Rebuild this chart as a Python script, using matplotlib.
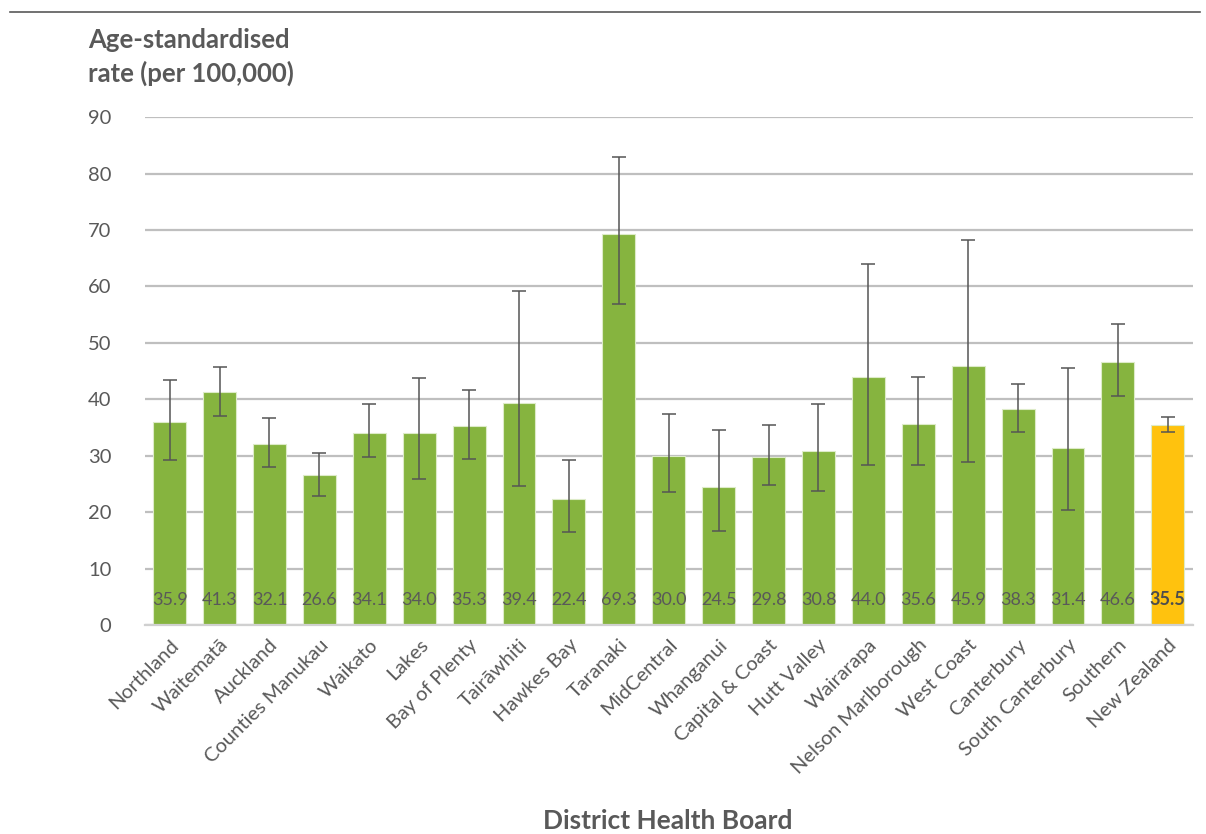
import matplotlib
matplotlib.use("Agg")
import matplotlib.pyplot as plt
from matplotlib.lines import Line2D

plt.rcParams['font.family'] = ['Lato', 'DejaVu Sans']

boards = ["Northland", "Waitematā", "Auckland", "Counties Manukau", "Waikato",
          "Lakes", "Bay of Plenty", "Tairāwhiti", "Hawkes Bay", "Taranaki",
          "MidCentral", "Whanganui", "Capital & Coast", "Hutt Valley", "Wairarapa",
          "Nelson Marlborough", "West Coast", "Canterbury", "South Canterbury",
          "Southern", "New Zealand"]
rates = [35.9, 41.3, 32.1, 26.6, 34.1, 34.0, 35.3, 39.4, 22.4, 69.3,
         30.0, 24.5, 29.8, 30.8, 44.0, 35.6, 45.9, 38.3, 31.4, 46.6, 35.5]
ci_low = [29.3, 37.1, 28.0, 22.9, 29.7, 25.9, 29.5, 24.7, 16.5, 56.9,
          23.5, 16.7, 24.8, 23.8, 28.4, 28.4, 28.8, 34.2, 20.4, 40.6, 34.2]
ci_high = [43.5, 45.7, 36.7, 30.5, 39.1, 43.8, 41.6, 59.1, 29.3, 82.9,
           37.4, 34.6, 35.4, 39.1, 63.9, 43.9, 68.2, 42.7, 45.5, 53.3, 36.9]
yticks = [0, 10, 20, 30, 40, 50, 60, 70, 80, 90]

GREEN = "#86B43F"
GOLD = "#FFC20E"
TEXT = "#595959"
GRID = "#BFBFBF"

fig = plt.figure(figsize=(12.06, 8.34), dpi=100)
ax = fig.add_axes([0.120, 0.2506, 0.869, 0.609])

x = list(range(len(boards)))
colors = [GREEN] * (len(boards) - 1) + [GOLD]
ax.bar(x, rates, width=0.66, color=colors, edgecolor="#DDEBC8", linewidth=0.8, zorder=2)

yerr = [[r - lo for r, lo in zip(rates, ci_low)],
        [hi - r for r, hi in zip(rates, ci_high)]]
ax.errorbar(x, rates, yerr=yerr, fmt="none", ecolor="#555555", elinewidth=1.1,
            capsize=5, capthick=1.1, zorder=3)

for i, r in enumerate(rates):
    last = i == len(rates) - 1
    ax.text(i, 4.5, f"{r:.1f}", ha="center", va="center", fontsize=13,
            color="#4D4D4D" if last else TEXT,
            fontweight="bold" if last else "normal", zorder=4)

ax.set_xlim(-0.5, len(boards) - 0.5)
ax.set_ylim(0, 90)
ax.set_yticks(yticks)
ax.yaxis.grid(True, color=GRID, linewidth=1.6, zorder=0)
ax.set_axisbelow(True)
for s in ["top", "right", "left"]:
    ax.spines[s].set_visible(False)
ax.spines["bottom"].set_color("#D0D0D0")
ax.spines["bottom"].set_linewidth(1.6)
ax.tick_params(axis="y", length=0, pad=24, labelsize=14.5, labelcolor=TEXT)
ax.tick_params(axis="x", length=0, pad=8, labelsize=14.5, labelcolor=TEXT)
ax.set_xticks(x)
ax.set_xticklabels(boards, rotation=45, ha="right", rotation_mode="anchor")

fig.text(0.073, 0.966, "Age-standardised\nrate (per 100,000)", ha="left", va="top",
         fontsize=18.5, fontweight="bold", color=TEXT, linespacing=1.4)
fig.text(0.554, 0.015, "District Health Board", ha="center", va="center",
         fontsize=19, fontweight="bold", color=TEXT)

fig.add_artist(Line2D([0.008, 0.995], [0.986, 0.986], transform=fig.transFigure,
                      color="#595959", linewidth=1.2))

fig.savefig("out.png", dpi=100)
